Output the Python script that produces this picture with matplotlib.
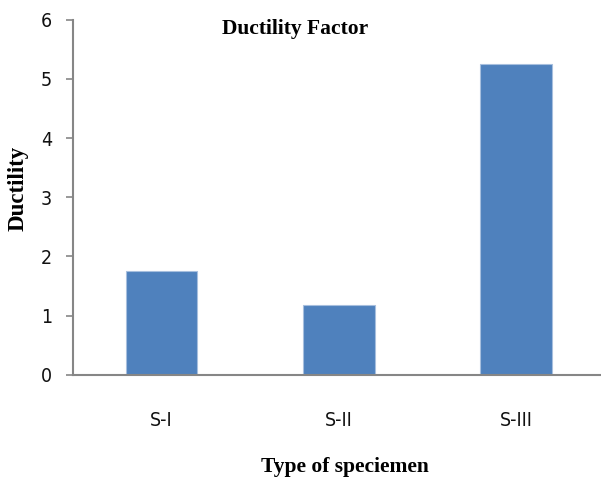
import matplotlib
matplotlib.use("Agg")
import matplotlib.pyplot as plt
from matplotlib import font_manager

categories = ["S-I", "S-II", "S-III"]
ductility = [1.76, 1.18, 5.25]
yticks = [0, 1, 2, 3, 4, 5, 6]

names = {f.name for f in font_manager.fontManager.ttflist}
if "Liberation Sans Narrow" in names:
    tick_kw = dict(fontfamily="Liberation Sans Narrow")
else:
    tick_kw = dict(fontfamily="DejaVu Sans", fontstretch="condensed")
serif = ["Liberation Serif", "DejaVu Serif"]

W, H = 601, 486
fig = plt.figure(figsize=(W / 100, H / 100), dpi=100)
left, right, bottom, top = 73, 604.5, 374.7, 19.7
ax = fig.add_axes([left / W, 1 - bottom / H, (right - left) / W, (bottom - top) / H])

x = list(range(len(categories)))
ax.bar(x, ductility, width=0.405, color="#4F81BD", edgecolor="#A7BFDE", linewidth=0.8, zorder=2)
ax.set_xlim(-0.5, 2.5)
ax.set_ylim(0, 6)
ax.set_yticks(yticks)
ax.set_yticklabels([str(t) for t in yticks], fontsize=14, color="#111111", **tick_kw)
ax.set_xticks(x)
ax.set_xticklabels(categories, fontsize=14, color="#111111", **tick_kw)
ax.tick_params(axis="x", length=0, pad=26)
ax.tick_params(axis="y", length=5, width=1.2, color="#868686", pad=10)

for s in ["top", "right"]:
    ax.spines[s].set_visible(False)
for s in ["left", "bottom"]:
    ax.spines[s].set_color("#868686")
    ax.spines[s].set_linewidth(1.5)

fig.text(295 / W, 1 - 29 / H, "Ductility Factor", ha="center", va="center",
         fontfamily=serif, fontweight="bold", fontsize=15.5)
fig.text(345 / W, 1 - 467 / H, "Type of speciemen", ha="center", va="center",
         fontfamily=serif, fontweight="bold", fontsize=15.5)
fig.text(18 / W, 1 - 188 / H, "Ductility", ha="center", va="center", rotation=90,
         fontfamily=serif, fontweight="bold", fontsize=16.5)

fig.savefig("out.png", dpi=100)
